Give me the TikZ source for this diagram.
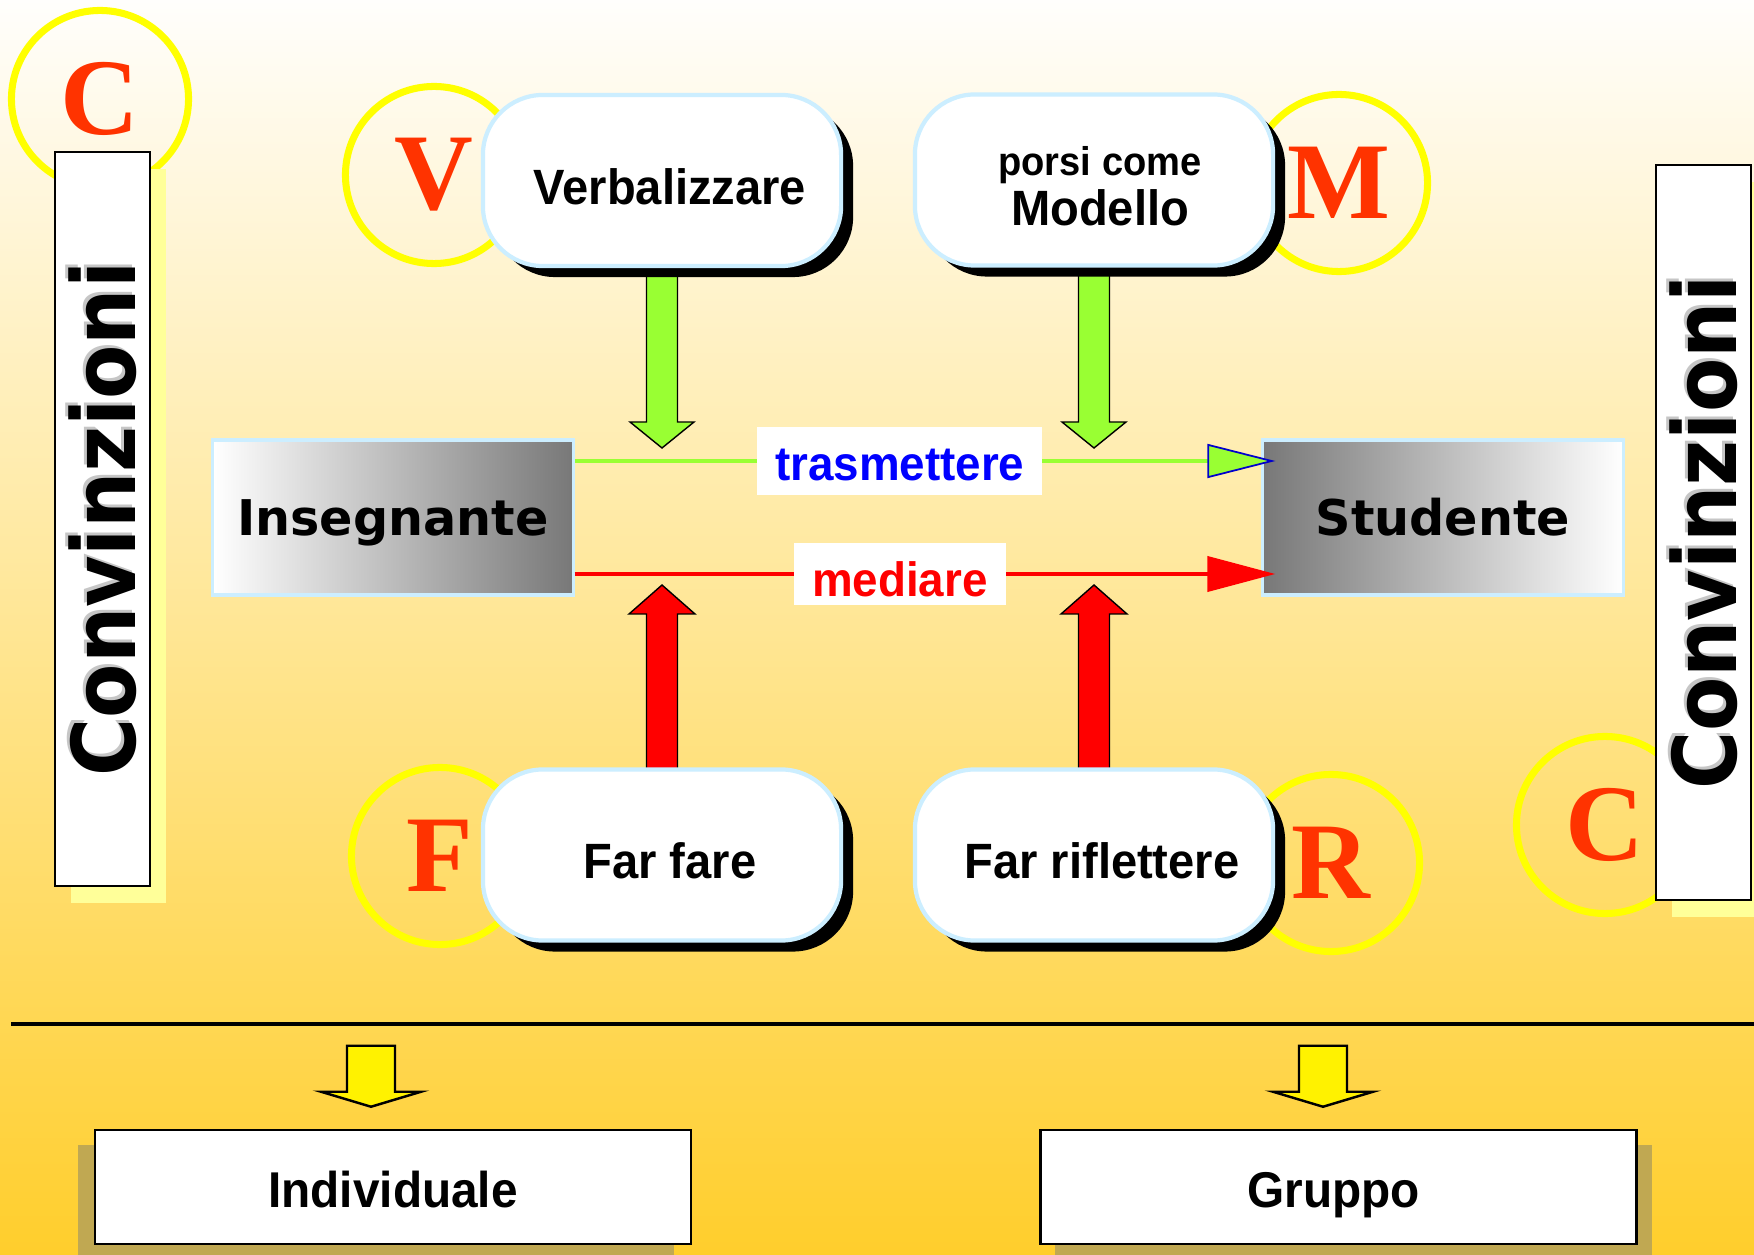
\documentclass[tikz,border=0pt]{standalone}
\usepackage{fontspec}
\usepackage{tikz}
\usetikzlibrary{calc,arrows.meta,shadows,positioning}

\newfontfamily\arialfont[FakeStretch=0.95]{Liberation Sans}
\newfontfamily\verdfont{DejaVu Sans}
\newfontfamily\convfont[FakeStretch=0.9]{DejaVu Sans}
\newfontfamily\timesfont{Liberation Serif}

\definecolor{lettred}{HTML}{FF3300}
\definecolor{ringyel}{HTML}{FFFF00}
\definecolor{boxblue}{HTML}{CCEEFF}
\definecolor{arrgreen}{HTML}{99FF33}
\definecolor{shadyel}{HTML}{FFFF99}
\definecolor{shadkhaki}{HTML}{C0A852}
\definecolor{bgtop}{HTML}{FFFEFC}
\definecolor{bgmid}{HTML}{FDE7C0}
\definecolor{bgbot}{HTML}{FFCE2C}

\begin{document}
\begin{tikzpicture}[x=0.01cm, y=-0.01cm,
  ring/.style={circle, draw=ringyel, line width=2pt, minimum size=1.77cm, inner sep=0pt,
    text=lettred, font=\timesfont\bfseries\fontsize{31}{31}\selectfont},
  bubble/.style={draw=boxblue, line width=1.2pt, fill=white, rounded corners=0.6cm,
    minimum width=3.58cm, minimum height=1.71cm, text height=0.5cm, text depth=0.03cm,
    font=\arialfont\bfseries\fontsize{14.1}{16}\selectfont,
    execute at begin node={\hspace*{0.16cm}},
    drop shadow={shadow xshift=0.12cm, shadow yshift=-0.11cm, fill=black, opacity=1}},
  convbox/.style={draw=black, line width=0.6pt, fill=white, minimum width=0.95cm, minimum height=7.34cm,
    drop shadow={shadow xshift=0.16cm, shadow yshift=-0.17cm, fill=shadyel, opacity=1}},
  convtext/.style={rotate=90, inner sep=0pt, font=\convfont\bfseries\fontsize{25}{25}\selectfont},
  endbox/.style={draw=boxblue, line width=0.9pt, minimum width=3.6cm, minimum height=1.55cm,
    text height=0.36cm, text depth=0.01cm, font=\verdfont\bfseries\fontsize{14}{16}\selectfont},
  lab/.style={fill=white, inner xsep=0.18cm, inner ysep=0pt, minimum height=0.68cm,
    text height=0.4cm, text depth=0.02cm, font=\arialfont\bfseries\fontsize{13.7}{16}\selectfont},
  basebox/.style={draw=black, line width=0.7pt, fill=white, minimum width=5.96cm, minimum height=1.14cm,
    text height=0.42cm, text depth=0.02cm, font=\arialfont\bfseries\fontsize{14.3}{16}\selectfont},
  fatgreen/.style={draw=black, line width=0.4pt, fill=arrgreen},
  fatred/.style={draw=black, line width=0.4pt, fill=red},
  fatyel/.style={draw=black, line width=0.7pt, fill=yellow},
  greenline/.style={arrgreen, line width=1.14pt,
    -{Triangle[length=0.68cm, width=0.34cm, fill=arrgreen, color=blue!80!black, line width=0.5pt]}},
  redline/.style={red, line width=1.14pt, -{Triangle[length=0.68cm, width=0.35cm, fill=red]}}]

\useasboundingbox (0,0) rectangle (1754,1255);
\shade[top color=bgtop, middle color=bgmid, bottom color=bgbot] (0,0) rectangle (1754,1255);

% letters in the rings
\node[ring] (ringCl) at (100,99) {C};
\node[ring] (ringCr) at (1605,825) {C};
\node[ring] (ringV) at (434,175) {V};
\node[ring] (ringM) at (1339,183) {M};
\node[ring] (ringF) at (440,856) {F};
\node[ring] (ringR) at (1331,863) {R};

\node[convbox] (convL) at (102.5,519) {};
\node[convbox] (convR) at (1703.5,532.5) {};
\foreach \c in {convL,convR} {
  \node[convtext, text=gray!45] at ($(\c)+(-3,-3)$) {Convinzioni};
  \node[convtext] at (\c) {Convinzioni};
}

\coordinate (topA) at (662,268);
\coordinate (topB) at (1094,268);
\coordinate (botA) at (662,768);
\coordinate (botB) at (1094,768);
\foreach \t in {topA,topB}
  \draw[fatgreen] ($(\t)+(15.5,-20)$) -- ++(0,174) -- ++(16.5,0) -- ++(-32,26) -- ++(-32,-26)
    -- ++(16.5,0) -- ++(0,-174) -- cycle;
\foreach \b in {botA,botB}
  \draw[fatred] ($(\b)+(15.5,20)$) -- ++(0,-174) -- ++(17.5,0) -- ++(-33,-29) -- ++(-33,29)
    -- ++(17.5,0) -- ++(0,174) -- cycle;

\node[bubble] (verb) at (662,180.5) {Verbalizzare};
\node[bubble] (mod) at (1094,180) {};
\node[align=center, font=\arialfont\bfseries\fontsize{14.1}{14.2}\selectfont] (modtext)
  at ($(mod)+(6,6)$) {{\fontsize{11.4}{14}\selectfont porsi come}\\Modello};
\node[bubble] (farf) at (662,855) {Far fare};
\node[bubble] (farr) at (1094,855) {Far riflettere};

\node[endbox, left color=white, right color=black!53] (ins) at (393,517.5) {Insegnante};
\node[endbox, left color=black!53, right color=white] (stu) at (1443,517.5) {Studente};

\draw[greenline] ($(ins.east)+(0,-56.5)$) -- node[lab, pos=0.464, text=blue] {trasmettere}
  ($(stu.west)+(14,-56.5)$);
\draw[redline] ($(ins.east)+(0,56.5)$) -- node[lab, pos=0.464, text=red, minimum height=0.61cm,
  text height=0.47cm] {mediare} ($(stu.west)+(14,56.5)$);

\draw[line width=0.9pt] (11,1024) -- (1754,1024);

\node[basebox, drop shadow={shadow xshift=-0.17cm, shadow yshift=-0.15cm, fill=shadkhaki, opacity=1}]
  (ind) at (393,1187) {Individuale};
\node[basebox, drop shadow={shadow xshift=0.15cm, shadow yshift=-0.15cm, fill=shadkhaki, opacity=1}]
  (grp) at (1338.5,1187) {Gruppo\hspace*{0.1cm}};
\foreach \n/\dx in {ind/-22,grp/-15.5}
  \draw[fatyel] ($(\n.north)+(\dx,-22)$) -- ++(50,-15) -- ++(-26,0) -- ++(0,-46) -- ++(-48,0)
    -- ++(0,46) -- ++(-26,0) -- cycle;
\end{tikzpicture}
\end{document}
